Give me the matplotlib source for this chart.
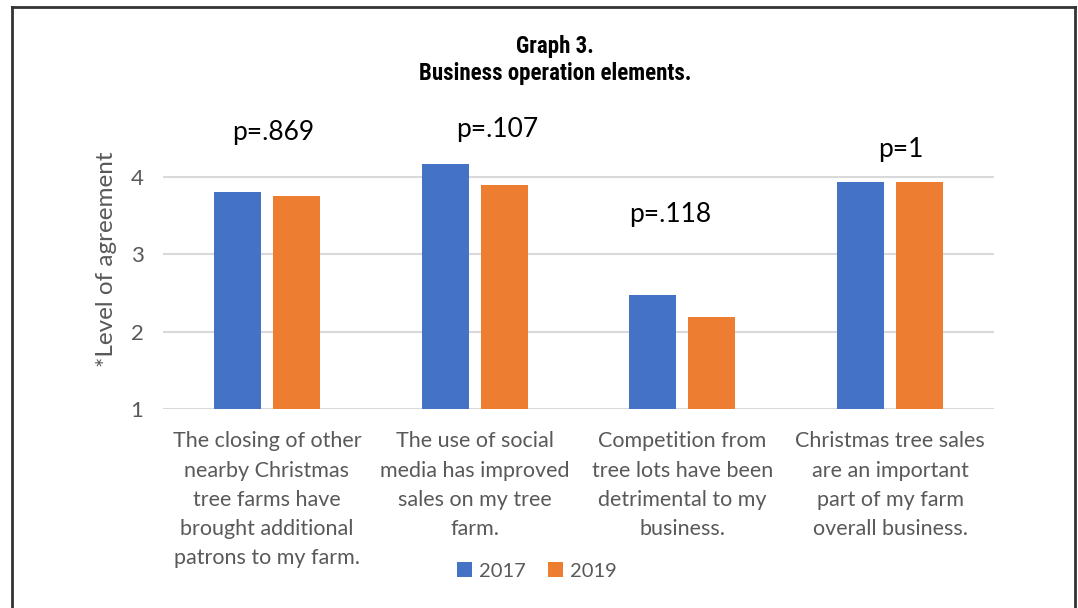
import matplotlib
matplotlib.use("Agg")
import matplotlib.pyplot as plt
from matplotlib.lines import Line2D
import numpy as np

# survey means per statement
categories = [
    "The closing of other\nnearby Christmas\ntree farms have\nbrought additional\npatrons to my farm.",
    "The use of social\nmedia has improved\nsales on my tree\nfarm.",
    "Competition from\ntree lots have been\ndetrimental to my\nbusiness.",
    "Christmas tree sales\nare an important\npart of my farm\noverall business.",
]
vals_2017 = [3.81, 4.17, 2.47, 3.94]
vals_2019 = [3.76, 3.90, 2.19, 3.94]
p_labels = ["p=.869", "p=.107", "p=.118", "p=1"]
years = ["2017", "2019"]

BLUE = "#4472C4"
ORANGE = "#ED7D31"
GRAY = "#595959"
W, H = 1078, 608

plt.rcParams["font.family"] = ["Lato", "DejaVu Sans"]

fig = plt.figure(figsize=(W / 100, H / 100), dpi=100)
ax = fig.add_axes([163 / W, (H - 409) / H, 831 / W, (409 - 110) / H])

x = np.arange(len(categories))
bw = 0.226
off = 0.142
ax.bar(x - off, np.array(vals_2017) - 1, bw, bottom=1, color=BLUE, label=years[0], zorder=3)
ax.bar(x + off, np.array(vals_2019) - 1, bw, bottom=1, color=ORANGE, label=years[1], zorder=3)

ax.set_xlim(-0.5, 3.5)
ax.set_ylim(1, 1 + (409 - 110) / 77.33)
ax.set_yticks([1, 2, 3, 4])
ax.yaxis.grid(True, color="#d9d9d9", linewidth=1.5, zorder=0)
for s in ax.spines.values():
    s.set_visible(False)
ax.tick_params(axis="x", length=0, labelsize=15.5, colors=GRAY, pad=16)
ax.tick_params(axis="y", length=0, labelsize=16, colors=GRAY, pad=14)
ax.set_xticks(x)
ax.set_xticklabels(categories, linespacing=1.58)
ax.set_ylabel("*Level of agreement", fontsize=17.5, color=GRAY, labelpad=10)

# p-values above each pair
p_x = [0.03, 1.11, 1.94, 3.05]
p_y = [4.58, 4.61, 3.51, 4.35]
for px, py, t in zip(p_x, p_y, p_labels):
    ax.text(px, py, t, ha="center", va="center", fontsize=19, color="black")

fig.text(555 / W, 1 - 60 / H, "Graph 3.\nBusiness operation elements.", ha="center", va="center",
         fontsize=16.5, fontweight="bold", fontstretch="condensed",
         family=["Roboto Condensed", "Liberation Sans Narrow", "Roboto", "DejaVu Sans"],
         linespacing=1.18)

leg = fig.legend(loc="center", bbox_to_anchor=(537 / W, 1 - 571 / H), ncol=2, frameon=False,
                 fontsize=14.5, handlelength=0.75, handleheight=0.75, handletextpad=0.35,
                 columnspacing=1.1)
for t in leg.get_texts():
    t.set_color(GRAY)

# outer frame: left, top and right edges
for xs, ys in [([12, 12], [0, H - 7]), ([12, 1075], [H - 7, H - 7]), ([1075, 1075], [H - 7, 0])]:
    fig.add_artist(Line2D(np.array(xs) / W, np.array(ys) / H, color="#333333", linewidth=2))

fig.savefig("out.png", dpi=100)
